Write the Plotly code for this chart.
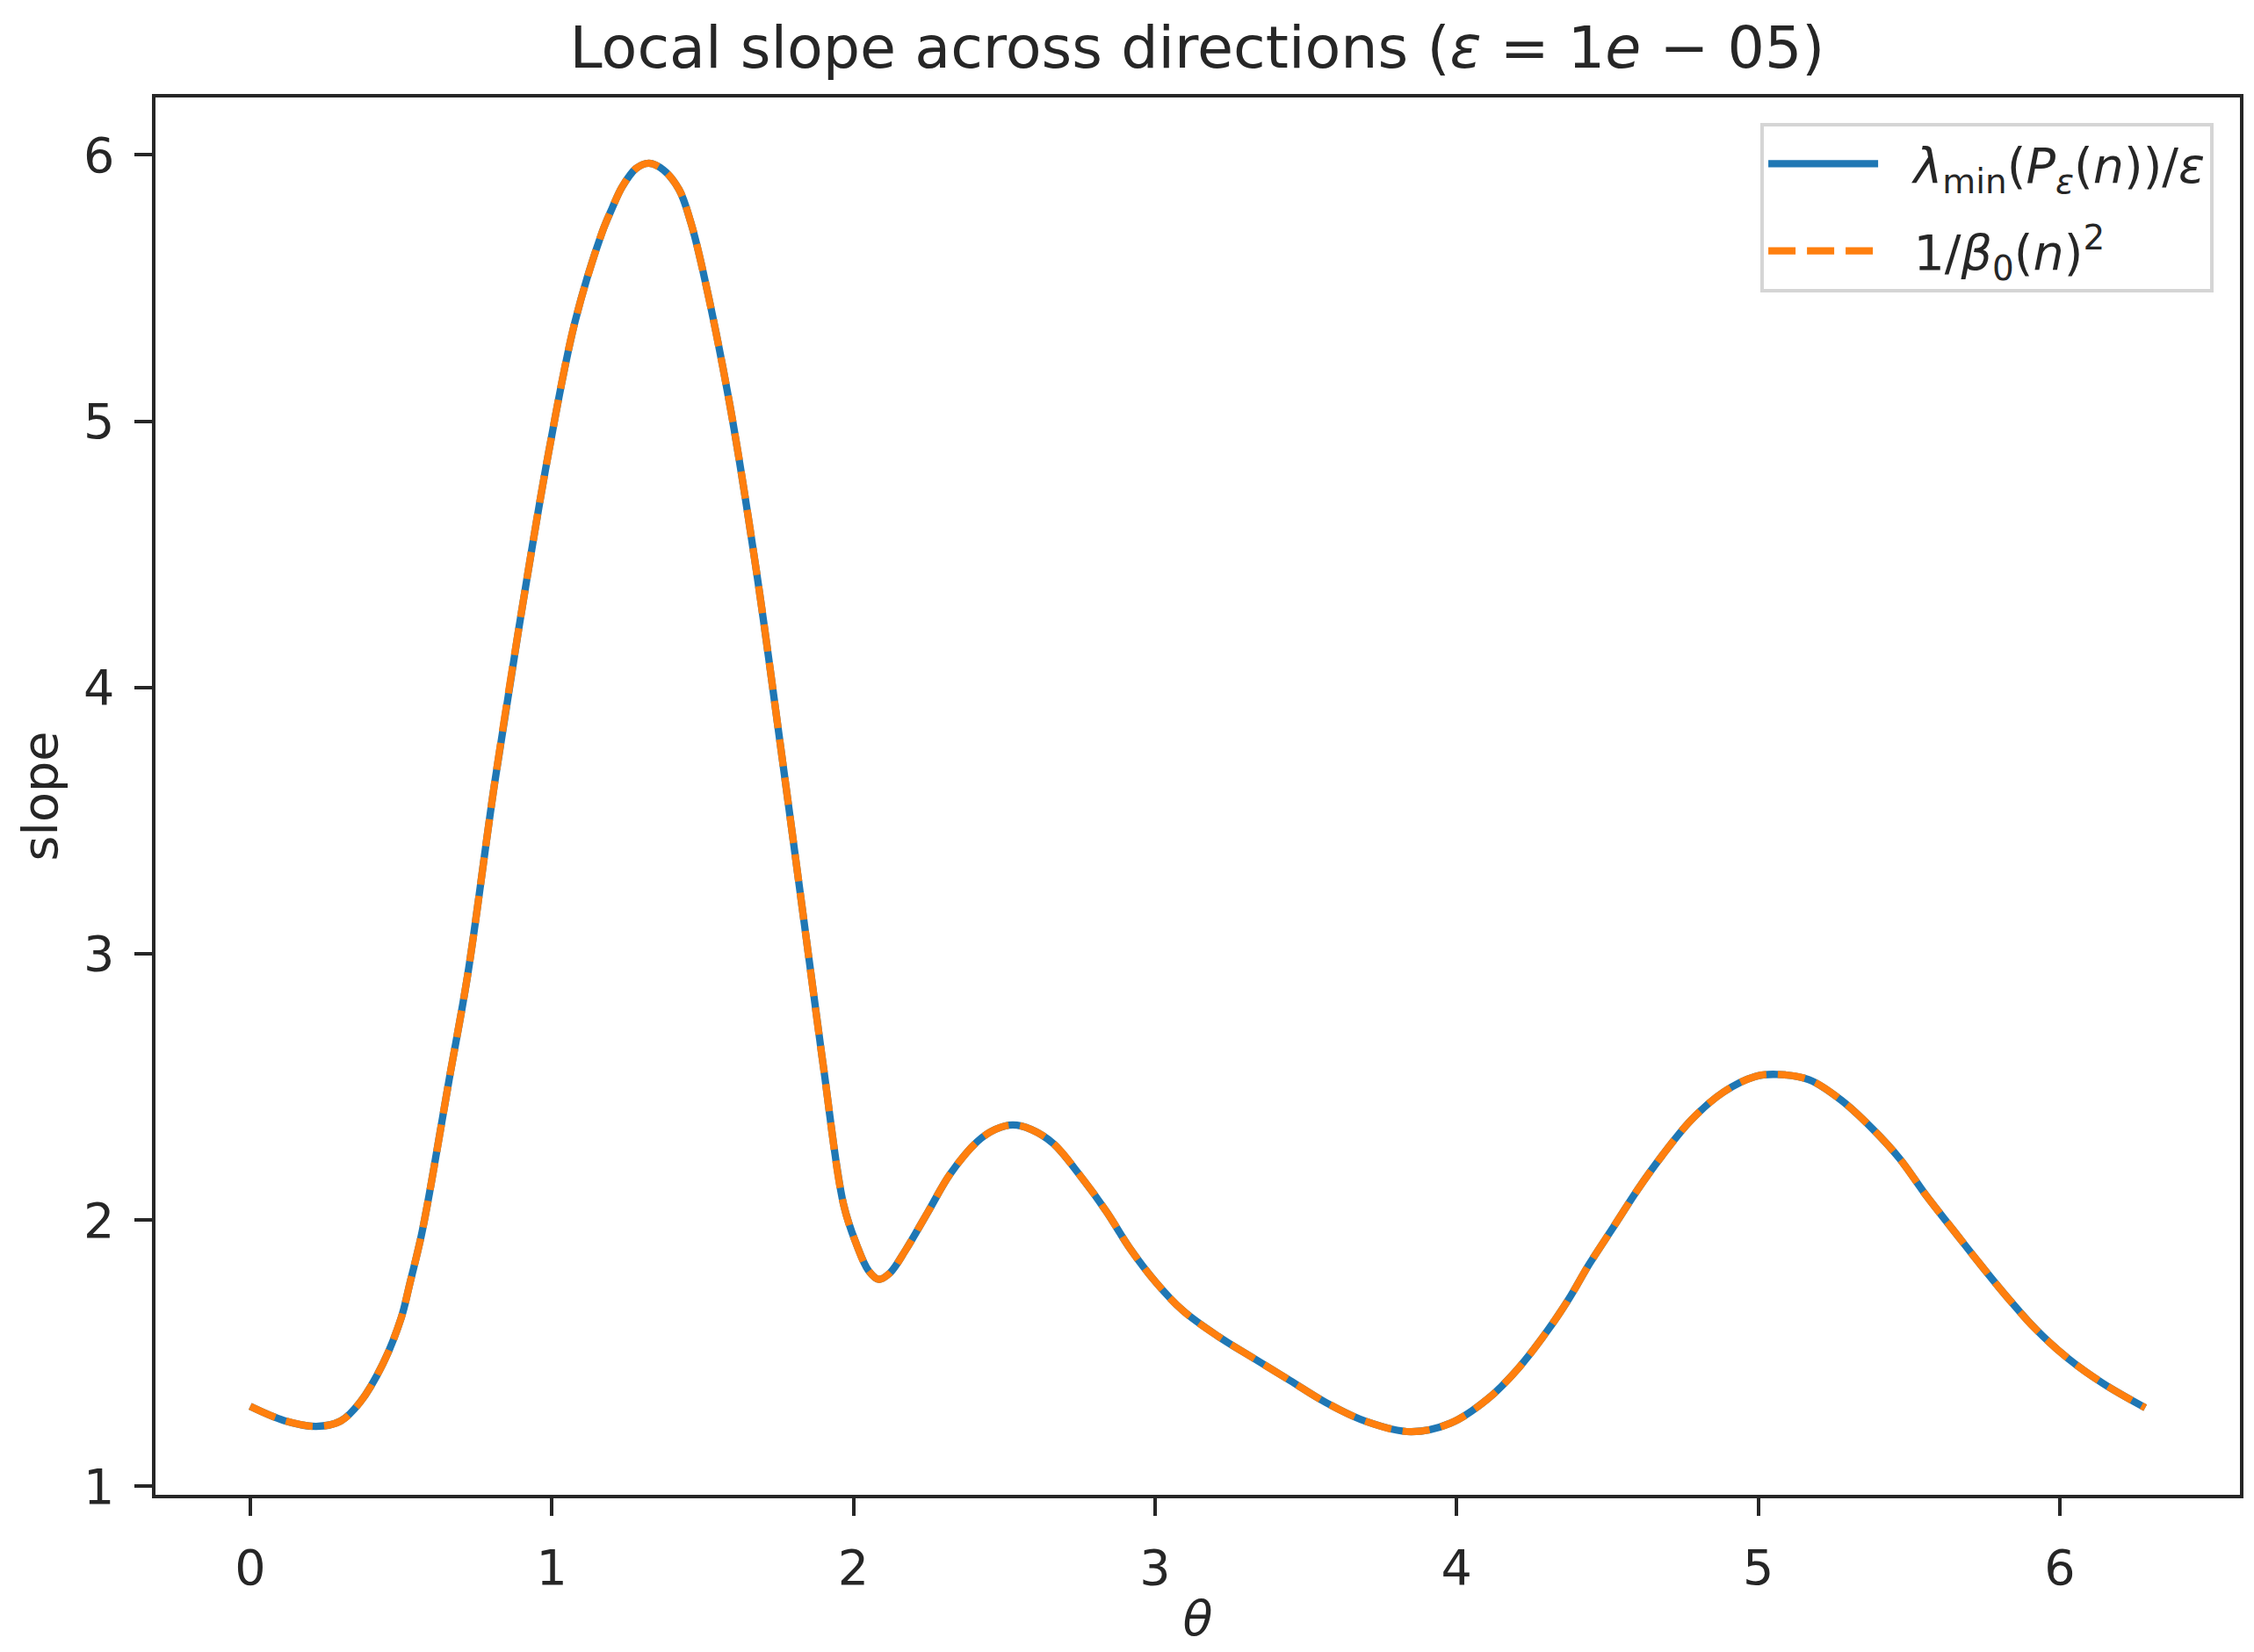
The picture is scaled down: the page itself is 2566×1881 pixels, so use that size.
import plotly.graph_objects as go

theta = [0, 0.112, 0.219, 0.30, 0.364, 0.44, 0.50, 0.529, 0.567, 0.599, 0.66, 0.721,
         0.811, 0.899, 0.989, 1.077, 1.166, 1.20, 1.233, 1.28, 1.322, 1.37, 1.422, 1.46,
         1.50, 1.589, 1.678, 1.756, 1.834, 1.90, 1.967, 2.01, 2.05, 2.084, 2.12, 2.173,
         2.247, 2.321, 2.41, 2.47, 2.528, 2.59, 2.662, 2.751, 2.84, 2.914, 3.003, 3.092,
         3.21, 3.328, 3.447, 3.566, 3.699, 3.848, 3.98, 4.105, 4.202, 4.29, 4.37, 4.44,
         4.52, 4.60, 4.68, 4.778, 4.884, 4.99, 5.061, 5.168, 5.274, 5.38, 5.469, 5.558,
         5.646, 5.735, 5.824, 5.92, 6.027, 6.142, 6.283]
slope_lambda = [1.30, 1.247, 1.225, 1.245, 1.315, 1.46, 1.63, 1.76, 1.94, 2.13, 2.53, 2.92,
                3.645, 4.28, 4.88, 5.374, 5.707, 5.80, 5.88, 5.95, 5.969, 5.944, 5.87, 5.75,
                5.57, 5.07, 4.44, 3.80, 3.14, 2.58, 2.06, 1.909, 1.81, 1.777, 1.80, 1.887,
                2.03, 2.173, 2.294, 2.34, 2.357, 2.34, 2.288, 2.168, 2.03, 1.898, 1.766, 1.66,
                1.5625, 1.48, 1.3975, 1.315, 1.244, 1.205, 1.237, 1.33, 1.44, 1.567, 1.70, 1.835,
                1.974, 2.114, 2.24, 2.376, 2.48, 2.539, 2.547, 2.527, 2.451, 2.341, 2.23, 2.09,
                1.963, 1.835, 1.712, 1.59, 1.48, 1.387, 1.295]
slope_beta = list(slope_lambda)

x_ticks = [0, 1, 2, 3, 4, 5, 6]
y_ticks = [1, 2, 3, 4, 5, 6]

FONT = "DejaVu Sans"
INK = "#262626"

fig = go.Figure()
fig.add_trace(go.Scatter(
    x=theta, y=slope_lambda, mode="lines",
    line=dict(color="#1f77b4", width=8.3, shape="spline", smoothing=1.0), legendgroup="a",
    name="&nbsp;&nbsp;<i>λ</i><sub>min</sub>(<i>P</i><sub><i>ε</i></sub>(<i>n</i>))/<i>ε</i>",
))
fig.add_trace(go.Scatter(
    x=theta, y=slope_beta, mode="lines",
    line=dict(color="#ff7f0e", width=8.3, dash="31px,13px", shape="spline", smoothing=1.0),
    legendgroup="b",
    name="&nbsp;&nbsp;1/<i>β</i><sub>0</sub>(<i>n</i>)<sup>2</sup>",
))

axis_common = dict(
    showgrid=False, zeroline=False, showline=True, linecolor=INK, linewidth=4.4,
    mirror=True, ticks="outside", ticklen=19.4, tickwidth=4.4, tickcolor=INK,
    tickfont=dict(family=FONT, size=55.6, color=INK),
)

fig.update_layout(
    width=2566, height=1881,
    margin=dict(l=177, r=16, t=111, b=179),
    paper_bgcolor="white", plot_bgcolor="white",
    title=dict(text="Local slope across directions (<i>ε</i> = 1<i>e</i> − 05)",
               x=1363 / 2566, xanchor="center", y=1 - 54 / 1881, yanchor="middle",
               font=dict(family=FONT, size=66.7, color=INK)),
    xaxis=dict(range=[-0.314, 6.597], tickvals=x_ticks, ticktext=[str(v) for v in x_ticks],
               title=dict(text="<i>θ</i>", font=dict(family=FONT, size=55.6, color=INK),
                          standoff=8),
               ticklabelstandoff=12, **axis_common),
    yaxis=dict(range=[0.968, 6.216], tickvals=y_ticks, ticktext=[str(v) for v in y_ticks],
               title=dict(text="slope", font=dict(family=FONT, size=55.6, color=INK),
                          standoff=12),
               ticklabelstandoff=12, **axis_common),
    legend=dict(x=0.9874, y=0.982, xanchor="right", yanchor="top",
                bgcolor="rgba(255,255,255,0.8)", bordercolor="#d5d5d5", borderwidth=4,
                font=dict(family=FONT, size=55.6, color=INK),
                itemwidth=125, tracegroupgap=24),
    showlegend=True,
)

fig.write_html("out.html")
